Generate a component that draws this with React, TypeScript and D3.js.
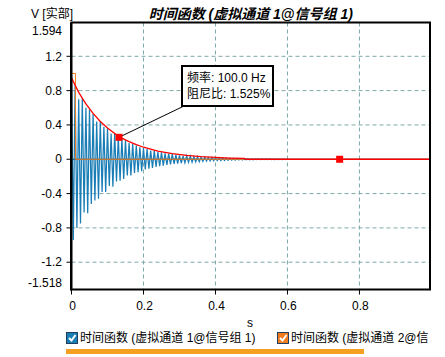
import React from "react";
import * as d3 from "d3";

const W = 445;
const H = 357;

const title = "时间函数 (虚拟通道 1@信号组 1)";
const yUnit = "V [实部]";
const xUnit = "s";
const yTicks = [-1.2, -0.8, -0.4, 0, 0.4, 0.8, 1.2];
const yMin = -1.518;
const yMax = 1.594;
const xTicks = [0, 0.2, 0.4, 0.6, 0.8];
const xMax = 0.996;

// blue series: positive peaks at t = k*0.01, negative peaks at t = k*0.01 + 0.005
const bluePos = [0.98, 0.86, 0.7, 0.71, 0.6, 0.58, 0.53, 0.44, 0.44, 0.38, 0.36, 0.3, 0.3, 0.26, 0.24, 0.22, 0.19, 0.18, 0.16, 0.14, 0.13, 0.12, 0.1, 0.1, 0.085, 0.08, 0.07, 0.065, 0.06, 0.05, 0.045, 0.04, 0.04, 0.035, 0.03, 0.03, 0.025, 0.025, 0.02, 0.02, 0.018, 0.015, 0.015, 0.012, 0.012, 0.01, 0.01, 0.008, 0.008, 0.006, 0.005, 0.004, 0.004, 0.003, 0.003, 0.003, 0.002, 0.002, 0.002, 0.002];
const blueNeg = [-0.94, -0.8, -0.75, -0.62, -0.63, -0.52, -0.48, -0.46, -0.38, -0.38, -0.31, -0.32, -0.26, -0.25, -0.23, -0.19, -0.19, -0.16, -0.15, -0.14, -0.12, -0.11, -0.1, -0.09, -0.08, -0.075, -0.065, -0.06, -0.055, -0.05, -0.045, -0.04, -0.035, -0.033, -0.03, -0.028, -0.025, -0.022, -0.02, -0.018, -0.016, -0.015, -0.013, -0.012, -0.011, -0.01, -0.009, -0.008, -0.007, -0.006, -0.006, -0.005, -0.005, -0.005, -0.004, -0.004, -0.004, -0.003, -0.003, -0.003];
const bluePeriod = 0.01;

// orange series (channel 2)
const orangeT = [0, 0.011, 0.011, 0.48];
const orangeV = [1.0, 1.0, 0, 0];

// red envelope fit
const envT = [0, 0.02, 0.04, 0.06, 0.08, 0.1, 0.12, 0.14, 0.16, 0.18, 0.2, 0.24, 0.28, 0.32, 0.36, 0.4, 0.44, 0.48, 0.485, 0.996];
const envV = [0.95, 0.78, 0.645, 0.535, 0.44, 0.365, 0.3, 0.247, 0.205, 0.17, 0.14, 0.096, 0.066, 0.045, 0.031, 0.021, 0.014, 0.01, 0, 0];

// markers
const markerT = [0.132, 0.745];
const markerV = [0.256, 0];

const noteLines = ["频率: 100.0 Hz", "阻尼比: 1.525%"];
const legendItems = ["时间函数 (虚拟通道 1@信号组 1)", "时间函数 (虚拟通道 2@信"];

const BLUE = "#1a7db6";
const ORANGE = "#f07c1e";
const RED = "#ff0000";
const GRID = "#7fa8a8";
const FONT = "'Liberation Sans', 'Noto Sans CJK SC', sans-serif";

export default function App() {
  const left = 71.5;
  const right = 430;
  const top = 22.5;
  const bottom = 289.5;

  const x = d3.scaleLinear().domain([0, xMax]).range([left, right]);
  const y = d3.scaleLinear().domain([yMin, yMax]).range([bottom, top]);

  const bluePts: [number, number][] = [];
  bluePos.forEach((p, k) => {
    bluePts.push([k * bluePeriod, p]);
    bluePts.push([k * bluePeriod + bluePeriod / 2, blueNeg[k]]);
  });
  const line = d3
    .line<[number, number]>()
    .x((d) => x(d[0]))
    .y((d) => y(d[1]));

  const bluePath = line(bluePts) || "";
  const orangePath = line(orangeT.map((t, i) => [t, orangeV[i]] as [number, number])) || "";
  const envPath = line(envT.map((t, i) => [t, envV[i]] as [number, number])) || "";

  const mx = x(markerT[0]);
  const my = y(markerV[0]);
  const box = { x0: 182, y0: 66, x1: 273, y1: 106 };

  return (
    <svg width={W} height={H} style={{ position: "absolute", left: 0, top: 0, background: "#fff" }} fontFamily={FONT}>
      <defs>
        <clipPath id="plotclip">
          <rect x={left} y={top} width={right - left} height={bottom - top} />
        </clipPath>
      </defs>
      <rect x={0} y={0} width={W} height={H} fill="#fff" />

      {/* grid */}
      {yTicks.filter((v) => v !== 0).map((v) => (
        <line key={"gy" + v} x1={left} x2={right} y1={y(v)} y2={y(v)} stroke={GRID} strokeDasharray="4,3" strokeWidth={1} />
      ))}
      {xTicks.filter((v) => v !== 0).map((v) => (
        <line key={"gx" + v} x1={x(v)} x2={x(v)} y1={top} y2={bottom} stroke={GRID} strokeDasharray="4,3" strokeWidth={1} />
      ))}

      {/* series */}
      <g clipPath="url(#plotclip)">
        <line x1={left} x2={right} y1={y(0)} y2={y(0)} stroke="#000" strokeWidth={1} />
        <path d={bluePath} fill="none" stroke={BLUE} strokeWidth={1.25} />
        <path d={orangePath} fill="none" stroke={ORANGE} strokeWidth={1} />
        <path d={envPath} fill="none" stroke={RED} strokeWidth={1.3} />
      </g>

      {/* annotation */}
      <line x1={mx} y1={my} x2={box.x0 + 2} y2={box.y1} stroke="#000" strokeWidth={1} />
      {markerT.map((t, i) => (
        <rect key={"m" + i} x={x(t) - 3.5} y={y(markerV[i]) - 3.5} width={7} height={7} fill={RED} />
      ))}
      <rect x={box.x0} y={box.y0} width={box.x1 - box.x0} height={box.y1 - box.y0} fill="#fff" stroke="#000" strokeWidth={2} />
      {noteLines.map((s, i) => (
        <text key={"n" + i} x={box.x0 + 5} y={box.y0 + 16 + i * 16} fontSize={12} fill="#000">
          {s}
        </text>
      ))}

      {/* frame */}
      <rect x={left} y={top} width={right - left} height={bottom - top} fill="none" stroke="#000" strokeWidth={2} />
      <line x1={left - 0.5} x2={left - 0.5} y1={top} y2={bottom + 1} stroke="#000" strokeWidth={2} />

      {/* y axis */}
      {yTicks.map((v) => (
        <g key={"yt" + v}>
          <line x1={left - 5} x2={left} y1={y(v)} y2={y(v)} stroke="#000" strokeWidth={1} />
          <text x={62} y={y(v)} dy="0.35em" textAnchor="end" fontSize={12} fill="#000">
            {String(v)}
          </text>
        </g>
      ))}
      <text x={62} y={y(yMax) + 8} dy="0.35em" textAnchor="end" fontSize={12} fill="#000">
        {String(yMax)}
      </text>
      <text x={62} y={y(yMin) - 7} dy="0.35em" textAnchor="end" fontSize={12} fill="#000">
        {String(yMin)}
      </text>
      <text x={31} y={14} dy="0.35em" fontSize={12} fill="#000">
        {yUnit}
      </text>

      {/* x axis */}
      {xTicks.map((v) => (
        <g key={"xt" + v}>
          <line x1={x(v)} x2={x(v)} y1={bottom} y2={bottom + 5} stroke="#000" strokeWidth={1} />
          <text x={x(v) + 1} y={306} dy="0.35em" textAnchor="middle" fontSize={12} fill="#000">
            {String(v)}
          </text>
        </g>
      ))}
      <text x={250} y={322.5} dy="0.35em" textAnchor="middle" fontSize={12} fill="#000">
        {xUnit}
      </text>

      {/* title */}
      <text x={(left + right) / 2} y={14} dy="0.35em" textAnchor="middle" fontSize={14} fontWeight="bold" fontStyle="italic" fill="#000">
        {title}
      </text>

      {/* legend */}
      {legendItems.map((s, i) => {
        const lx = i === 0 ? 66 : 277;
        const col = i === 0 ? BLUE : ORANGE;
        return (
          <g key={"lg" + i}>
            <rect x={lx + 0.5} y={332.5} width={11} height={11} fill={col} stroke="#1f3f5f" strokeWidth={1} />
            <path d={`M${lx + 3},${338} L${lx + 5.5},${340.5} L${lx + 9.5},${335}`} fill="none" stroke="#fff" strokeWidth={2} />
            <text x={lx + 14} y={338} dy="0.35em" fontSize={12} fill="#000">
              {s}
            </text>
          </g>
        );
      })}
      <rect x={66} y={349} width={298} height={5} fill="#f5a020" />
    </svg>
  );
}
